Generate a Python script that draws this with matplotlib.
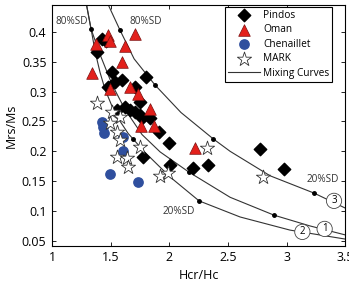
import matplotlib
matplotlib.use("Agg")
import matplotlib.pyplot as plt

plt.rcParams['font.family'] = ['Open Sans', 'DejaVu Sans']

# ---- data ----
pindos_x = [1.384, 1.427, 1.461, 1.512, 1.538, 1.478, 1.597, 1.708, 1.802, 1.751,
            1.555, 1.623, 1.666, 1.708, 1.751, 1.768, 1.836, 1.913, 1.998, 1.776,
            2.007, 2.203, 2.331, 2.775, 2.980]
pindos_y = [0.366, 0.388, 0.385, 0.333, 0.316, 0.308, 0.320, 0.308, 0.325, 0.283,
            0.269, 0.274, 0.269, 0.266, 0.261, 0.256, 0.256, 0.233, 0.214, 0.191,
            0.177, 0.172, 0.177, 0.204, 0.171]

oman_x = [1.478, 1.495, 1.375, 1.623, 1.708, 1.597, 1.341, 1.495, 1.666, 1.734,
          1.836, 1.759, 1.870, 2.220]
oman_y = [0.395, 0.385, 0.380, 0.377, 0.397, 0.350, 0.331, 0.305, 0.308, 0.296,
          0.271, 0.243, 0.243, 0.206]

chen_x = [1.427, 1.435, 1.444, 1.606, 1.606, 1.495, 1.734]
chen_y = [0.249, 0.241, 0.231, 0.224, 0.201, 0.162, 0.149]

mark_x = [1.384, 1.512, 1.580, 1.495, 1.555, 1.580, 1.751, 1.555, 1.640, 1.648,
          1.922, 1.990, 2.323, 2.800]
mark_y = [0.281, 0.266, 0.258, 0.248, 0.233, 0.219, 0.207, 0.191, 0.189, 0.174,
          0.159, 0.164, 0.206, 0.157]

# mixing curves (read points along each curve)
curve1_x = [1.290, 1.333, 1.410, 1.512, 1.623, 1.768, 1.922, 2.169, 2.519, 2.894, 3.200, 3.500]
curve1_y = [0.450, 0.405, 0.362, 0.312, 0.270, 0.228, 0.199, 0.165, 0.123, 0.093, 0.075, 0.060]
curve2_x = [1.290, 1.333, 1.370, 1.410, 1.452, 1.538, 1.649, 1.794, 2.007, 2.254, 2.604, 3.030, 3.500]
curve2_y = [0.450, 0.405, 0.365, 0.332, 0.304, 0.263, 0.230, 0.198, 0.157, 0.117, 0.090, 0.068, 0.053]
curve3_x = [1.469, 1.580, 1.700, 1.879, 2.100, 2.374, 2.519, 2.860, 3.235, 3.500]
curve3_y = [0.450, 0.403, 0.355, 0.311, 0.265, 0.221, 0.200, 0.159, 0.130, 0.105]

# mixture dots along curves
dots1_x = [1.333, 2.169, 2.894]
dots1_y = [0.405, 0.165, 0.093]
dots2_x = [1.691, 2.254]
dots2_y = [0.220, 0.117]
dots3_x = [1.580, 1.879, 2.374, 3.235]
dots3_y = [0.403, 0.311, 0.221, 0.130]

fig = plt.figure(figsize=(3.49, 2.83), dpi=100)
ax = fig.add_axes([0.149, 0.131, 0.840, 0.851])

lw = 0.8
ln, = ax.plot(curve1_x, curve1_y, color='#333333', lw=lw, label='Mixing Curves', zorder=1)
ax.plot(curve2_x, curve2_y, color='#333333', lw=lw, zorder=1)
ax.plot(curve3_x, curve3_y, color='#333333', lw=lw, zorder=1)
for dx, dy in [(dots1_x, dots1_y), (dots2_x, dots2_y), (dots3_x, dots3_y)]:
    ax.plot(dx, dy, 'o', color='black', ms=2.5, zorder=2, lw=0)

hp = ax.scatter(pindos_x, pindos_y, marker='D', s=40, c='black', edgecolors='black', label='Pindos', zorder=3)
ho = ax.scatter(oman_x, oman_y, marker='^', s=70, c='#e3201b', edgecolors='#7a1010', linewidths=0.5, label='Oman', zorder=4)
hc = ax.scatter(chen_x, chen_y, marker='o', s=45, c='#2f4f9e', edgecolors='#2f4f9e', label='Chenaillet', zorder=4)
hm = ax.scatter(mark_x, mark_y, marker='*', s=115, c='white', edgecolors='#333333', linewidths=0.6, label='MARK', zorder=5)

txt = dict(fontsize=7.2, color='#333333')
ax.text(1.03, 0.417, '80%SD', ha='left', va='center', **txt)
ax.text(1.66, 0.417, '80%SD', ha='left', va='center', **txt)
ax.text(1.94, 0.100, '20%SD', ha='left', va='center', **txt)
ax.text(3.175, 0.152, '20%SD', ha='left', va='center', **txt)

circ = dict(boxstyle='circle,pad=0.22', fc='white', ec='#444444', lw=0.6)
ax.text(3.405, 0.117, '3', ha='center', va='center', fontsize=7, bbox=circ, zorder=6)
ax.text(3.325, 0.070, '1', ha='center', va='center', fontsize=7, bbox=circ, zorder=6)
ax.text(3.135, 0.065, '2', ha='center', va='center', fontsize=7, bbox=circ, zorder=6)

ax.set_xlim(1, 3.5)
ax.set_ylim(0.0415, 0.445)
ax.set_xticks([1, 1.5, 2, 2.5, 3, 3.5])
ax.set_xticklabels(['1', '1.5', '2', '2.5', '3', '3.5'])
ax.set_yticks([0.05, 0.1, 0.15, 0.2, 0.25, 0.3, 0.35, 0.4])
ax.set_yticklabels(['0.05', '0.1', '0.15', '0.2', '0.25', '0.3', '0.35', '0.4'])
ax.tick_params(direction='in', top=True, right=True, labelsize=9, length=3, width=0.6, pad=4)
for s in ax.spines.values():
    s.set_linewidth(0.8)
ax.set_xlabel('Hcr/Hc', fontsize=9, labelpad=3)
ax.set_ylabel('Mrs/Ms', fontsize=9, labelpad=3)

leg = ax.legend(handles=[hp, ho, hc, hm, ln], loc='upper right', fontsize=7.3,
                frameon=True, fancybox=False, edgecolor='black', framealpha=1,
                borderpad=0.3, labelspacing=0.35, handlelength=3.1, handletextpad=0.3,
                borderaxespad=0, bbox_to_anchor=(0.956, 0.993))
leg.get_frame().set_linewidth(0.8)

fig.savefig('out.png', dpi=100)
